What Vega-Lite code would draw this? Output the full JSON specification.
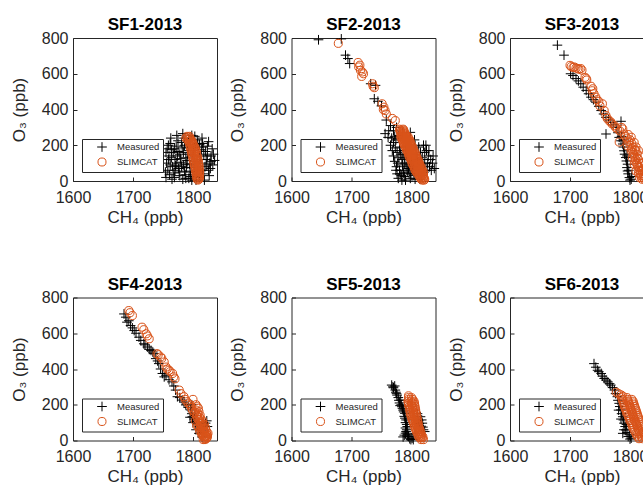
{
"$schema": "https://vega.github.io/schema/vega-lite/v6.json",
"autosize": {"type": "pad"},
"padding": {"left": 9, "top": 15, "right": 0, "bottom": 0},
"background": "white",
"bounds": "flush",
"columns": 3,
"spacing": {"row": 116.5, "column": 74.5},
"resolve": {"scale": {"color": "independent", "shape": "independent"}},
"config": {
  "font": "Liberation Sans",
  "view": {"stroke": "#262626", "strokeWidth": 1},
  "axis": {"grid": false, "domain": false, "tickColor": "#262626", "tickSize": -4, "labelColor": "#262626", "titleColor": "#262626", "labelFontSize": 16, "titleFontSize": 17, "titleFontWeight": "normal", "labelFlush": false, "labelFont": "Liberation Sans", "titleFont": "Liberation Sans", "format": "d"},
  "axisX": {"labelPadding": 12, "titlePadding": 4},
  "axisY": {"labelPadding": 9, "titlePadding": 13},
  "title": {"fontSize": 17, "fontWeight": "bold", "color": "#000000", "offset": -4, "baseline": "alphabetic", "font": "Liberation Sans"},
  "legend": {"orient": "bottom-left", "offset": 9, "strokeColor": "#262626", "fillColor": "white", "padding": 3, "labelFont": "Liberation Sans", "labelFontSize": 9.5, "labelColor": "#262626", "symbolOffset": 12, "labelOffset": 10, "rowPadding": 1, "symbolStrokeWidth": 1, "symbolSize": 65, "titleFontSize": 0}
},
"datasets": {
"SF1": [
{"series":"Measured","ch4":1755,"o3":20},{"series":"Measured","ch4":1758,"o3":60},{"series":"Measured","ch4":1756,"o3":100},{"series":"Measured","ch4":1760,"o3":140},{"series":"Measured","ch4":1757,"o3":180},{"series":"Measured","ch4":1762,"o3":210},{"series":"Measured","ch4":1765,"o3":10},{"series":"Measured","ch4":1768,"o3":45},{"series":"Measured","ch4":1766,"o3":80},{"series":"Measured","ch4":1770,"o3":120},{"series":"Measured","ch4":1767,"o3":160},{"series":"Measured","ch4":1772,"o3":195},{"series":"Measured","ch4":1775,"o3":225},{"series":"Measured","ch4":1778,"o3":30},{"series":"Measured","ch4":1776,"o3":70},{"series":"Measured","ch4":1780,"o3":105},{"series":"Measured","ch4":1778,"o3":150},{"series":"Measured","ch4":1782,"o3":185},{"series":"Measured","ch4":1785,"o3":240},{"series":"Measured","ch4":1788,"o3":15},{"series":"Measured","ch4":1786,"o3":55},{"series":"Measured","ch4":1790,"o3":95},{"series":"Measured","ch4":1788,"o3":130},{"series":"Measured","ch4":1792,"o3":170},{"series":"Measured","ch4":1795,"o3":205},{"series":"Measured","ch4":1798,"o3":255},{"series":"Measured","ch4":1800,"o3":35},{"series":"Measured","ch4":1797,"o3":75},{"series":"Measured","ch4":1802,"o3":110},{"series":"Measured","ch4":1799,"o3":145},{"series":"Measured","ch4":1804,"o3":190},{"series":"Measured","ch4":1807,"o3":230},{"series":"Measured","ch4":1810,"o3":20},{"series":"Measured","ch4":1808,"o3":60},{"series":"Measured","ch4":1812,"o3":100},{"series":"Measured","ch4":1811,"o3":140},{"series":"Measured","ch4":1814,"o3":175},{"series":"Measured","ch4":1816,"o3":210},{"series":"Measured","ch4":1818,"o3":40},{"series":"Measured","ch4":1820,"o3":80},{"series":"Measured","ch4":1822,"o3":120},{"series":"Measured","ch4":1821,"o3":165},{"series":"Measured","ch4":1824,"o3":195},{"series":"Measured","ch4":1826,"o3":60},{"series":"Measured","ch4":1828,"o3":100},{"series":"Measured","ch4":1830,"o3":140},{"series":"Measured","ch4":1833,"o3":90},{"series":"Measured","ch4":1836,"o3":115},{"series":"Measured","ch4":1832,"o3":180},{"series":"Measured","ch4":1763,"o3":240},{"series":"Measured","ch4":1773,"o3":255},{"series":"Measured","ch4":1783,"o3":265},{"series":"Measured","ch4":1793,"o3":235},{"series":"Measured","ch4":1803,"o3":250},{"series":"Measured","ch4":1815,"o3":240},{"series":"Measured","ch4":1819,"o3":5},{"series":"Measured","ch4":1805,"o3":5},{"series":"Measured","ch4":1795,"o3":50},{"series":"Measured","ch4":1784,"o3":90},{"series":"Measured","ch4":1774,"o3":140},{"series":"Measured","ch4":1764,"o3":175},{"series":"Measured","ch4":1761,"o3":35},{"series":"Measured","ch4":1771,"o3":85},{"series":"Measured","ch4":1781,"o3":215},{"series":"Measured","ch4":1791,"o3":190},{"series":"Measured","ch4":1801,"o3":170},{"series":"Measured","ch4":1813,"o3":120},{"series":"Measured","ch4":1827,"o3":30},
{"series":"Measured","ch4":1754,"o3":50},{"series":"Measured","ch4":1759,"o3":120},{"series":"Measured","ch4":1755,"o3":160},{"series":"Measured","ch4":1759,"o3":200},{"series":"Measured","ch4":1762,"o3":90},{"series":"Measured","ch4":1764,"o3":130},{"series":"Measured","ch4":1769,"o3":20},{"series":"Measured","ch4":1770,"o3":60},{"series":"Measured","ch4":1773,"o3":100},{"series":"Measured","ch4":1769,"o3":180},{"series":"Measured","ch4":1775,"o3":165},{"series":"Measured","ch4":1777,"o3":50},{"series":"Measured","ch4":1779,"o3":125},{"series":"Measured","ch4":1781,"o3":80},{"series":"Measured","ch4":1783,"o3":10},{"series":"Measured","ch4":1784,"o3":160},{"series":"Measured","ch4":1786,"o3":200},{"series":"Measured","ch4":1787,"o3":35},{"series":"Measured","ch4":1789,"o3":75},{"series":"Measured","ch4":1790,"o3":115},{"series":"Measured","ch4":1791,"o3":150},{"series":"Measured","ch4":1793,"o3":15},{"series":"Measured","ch4":1794,"o3":95},{"series":"Measured","ch4":1796,"o3":25},{"series":"Measured","ch4":1798,"o3":5},{"series":"Measured","ch4":1802,"o3":55},{"series":"Measured","ch4":1806,"o3":25},{"series":"Measured","ch4":1816,"o3":60},{"series":"Measured","ch4":1818,"o3":150},{"series":"Measured","ch4":1824,"o3":140},{"series":"Measured","ch4":1829,"o3":70},{"series":"Measured","ch4":1834,"o3":150},{"series":"Measured","ch4":1823,"o3":90},{"series":"Measured","ch4":1817,"o3":190},{"series":"Measured","ch4":1811,"o3":205},{"series":"Measured","ch4":1808,"o3":210},{"series":"Measured","ch4":1830,"o3":110},{"series":"Measured","ch4":1826,"o3":220},
{"series":"SLIMCAT","ch4":1790,"o3":250},{"series":"SLIMCAT","ch4":1794,"o3":250},{"series":"SLIMCAT","ch4":1788,"o3":240},{"series":"SLIMCAT","ch4":1795,"o3":240},{"series":"SLIMCAT","ch4":1791,"o3":230},{"series":"SLIMCAT","ch4":1797,"o3":230},{"series":"SLIMCAT","ch4":1793,"o3":220},{"series":"SLIMCAT","ch4":1799,"o3":220},{"series":"SLIMCAT","ch4":1794,"o3":210},{"series":"SLIMCAT","ch4":1800,"o3":210},{"series":"SLIMCAT","ch4":1795,"o3":200},{"series":"SLIMCAT","ch4":1801,"o3":200},{"series":"SLIMCAT","ch4":1796,"o3":190},{"series":"SLIMCAT","ch4":1803,"o3":190},{"series":"SLIMCAT","ch4":1796,"o3":180},{"series":"SLIMCAT","ch4":1804,"o3":180},{"series":"SLIMCAT","ch4":1797,"o3":170},{"series":"SLIMCAT","ch4":1805,"o3":170},{"series":"SLIMCAT","ch4":1798,"o3":160},{"series":"SLIMCAT","ch4":1806,"o3":160},{"series":"SLIMCAT","ch4":1798,"o3":150},{"series":"SLIMCAT","ch4":1806,"o3":150},{"series":"SLIMCAT","ch4":1799,"o3":140},{"series":"SLIMCAT","ch4":1807,"o3":140},{"series":"SLIMCAT","ch4":1800,"o3":130},{"series":"SLIMCAT","ch4":1808,"o3":130},{"series":"SLIMCAT","ch4":1800,"o3":120},{"series":"SLIMCAT","ch4":1808,"o3":120},{"series":"SLIMCAT","ch4":1801,"o3":110},{"series":"SLIMCAT","ch4":1809,"o3":110},{"series":"SLIMCAT","ch4":1802,"o3":100},{"series":"SLIMCAT","ch4":1809,"o3":100},{"series":"SLIMCAT","ch4":1802,"o3":90},{"series":"SLIMCAT","ch4":1810,"o3":90},{"series":"SLIMCAT","ch4":1803,"o3":80},{"series":"SLIMCAT","ch4":1810,"o3":80},{"series":"SLIMCAT","ch4":1804,"o3":70},{"series":"SLIMCAT","ch4":1810,"o3":70},{"series":"SLIMCAT","ch4":1804,"o3":60},{"series":"SLIMCAT","ch4":1811,"o3":60},{"series":"SLIMCAT","ch4":1805,"o3":50},{"series":"SLIMCAT","ch4":1811,"o3":50},{"series":"SLIMCAT","ch4":1805,"o3":40},{"series":"SLIMCAT","ch4":1811,"o3":40},{"series":"SLIMCAT","ch4":1806,"o3":30},{"series":"SLIMCAT","ch4":1811,"o3":30},{"series":"SLIMCAT","ch4":1806,"o3":20},{"series":"SLIMCAT","ch4":1811,"o3":20},{"series":"SLIMCAT","ch4":1807,"o3":10},{"series":"SLIMCAT","ch4":1810,"o3":10},{"series":"SLIMCAT","ch4":1808,"o3":5},
{"series":"SLIMCAT","ch4":1792,"o3":245},{"series":"SLIMCAT","ch4":1794,"o3":235},{"series":"SLIMCAT","ch4":1796,"o3":225},{"series":"SLIMCAT","ch4":1797,"o3":215},{"series":"SLIMCAT","ch4":1798,"o3":205},{"series":"SLIMCAT","ch4":1799,"o3":195},{"series":"SLIMCAT","ch4":1800,"o3":185},{"series":"SLIMCAT","ch4":1801,"o3":175},{"series":"SLIMCAT","ch4":1802,"o3":165},{"series":"SLIMCAT","ch4":1802,"o3":155},{"series":"SLIMCAT","ch4":1803,"o3":145},{"series":"SLIMCAT","ch4":1804,"o3":135},{"series":"SLIMCAT","ch4":1804,"o3":125},{"series":"SLIMCAT","ch4":1805,"o3":115},{"series":"SLIMCAT","ch4":1805,"o3":105},{"series":"SLIMCAT","ch4":1806,"o3":95},{"series":"SLIMCAT","ch4":1806,"o3":85},{"series":"SLIMCAT","ch4":1807,"o3":75},{"series":"SLIMCAT","ch4":1807,"o3":65},{"series":"SLIMCAT","ch4":1808,"o3":55},{"series":"SLIMCAT","ch4":1808,"o3":45},{"series":"SLIMCAT","ch4":1808,"o3":35},{"series":"SLIMCAT","ch4":1809,"o3":25},{"series":"SLIMCAT","ch4":1809,"o3":15}
],
"SF2": [
{"series":"Measured","ch4":1645,"o3":790},{"series":"Measured","ch4":1683,"o3":795},{"series":"Measured","ch4":1690,"o3":704},{"series":"Measured","ch4":1694,"o3":685},{"series":"Measured","ch4":1697,"o3":657},{"series":"Measured","ch4":1732,"o3":544},{"series":"Measured","ch4":1740,"o3":535},{"series":"Measured","ch4":1738,"o3":460},{"series":"Measured","ch4":1744,"o3":446},{"series":"Measured","ch4":1750,"o3":420},{"series":"Measured","ch4":1758,"o3":341},{"series":"Measured","ch4":1762,"o3":281},{"series":"Measured","ch4":1761,"o3":244},{"series":"Measured","ch4":1770,"o3":281},{"series":"Measured","ch4":1798,"o3":272},{"series":"Measured","ch4":1756,"o3":265},{"series":"Measured","ch4":1765,"o3":310},{"series":"Measured","ch4":1772,"o3":250},{"series":"Measured","ch4":1778,"o3":240},{"series":"Measured","ch4":1775,"o3":300},{"series":"Measured","ch4":1785,"o3":270},{"series":"Measured","ch4":1805,"o3":230},
{"series":"Measured","ch4":1765,"o3":200},{"series":"Measured","ch4":1768,"o3":170},{"series":"Measured","ch4":1770,"o3":140},{"series":"Measured","ch4":1772,"o3":110},{"series":"Measured","ch4":1775,"o3":80},{"series":"Measured","ch4":1776,"o3":40},{"series":"Measured","ch4":1778,"o3":15},{"series":"Measured","ch4":1780,"o3":190},{"series":"Measured","ch4":1782,"o3":150},{"series":"Measured","ch4":1784,"o3":120},{"series":"Measured","ch4":1785,"o3":90},{"series":"Measured","ch4":1786,"o3":60},{"series":"Measured","ch4":1788,"o3":25},{"series":"Measured","ch4":1790,"o3":5},{"series":"Measured","ch4":1792,"o3":140},{"series":"Measured","ch4":1794,"o3":100},{"series":"Measured","ch4":1795,"o3":70},{"series":"Measured","ch4":1796,"o3":40},{"series":"Measured","ch4":1798,"o3":15},{"series":"Measured","ch4":1800,"o3":110},{"series":"Measured","ch4":1802,"o3":60},{"series":"Measured","ch4":1804,"o3":30},{"series":"Measured","ch4":1780,"o3":60},{"series":"Measured","ch4":1783,"o3":30},{"series":"Measured","ch4":1788,"o3":100},{"series":"Measured","ch4":1790,"o3":170},{"series":"Measured","ch4":1812,"o3":190},{"series":"Measured","ch4":1815,"o3":160},{"series":"Measured","ch4":1818,"o3":130},{"series":"Measured","ch4":1820,"o3":200},{"series":"Measured","ch4":1822,"o3":100},{"series":"Measured","ch4":1825,"o3":170},{"series":"Measured","ch4":1828,"o3":140},{"series":"Measured","ch4":1830,"o3":80},{"series":"Measured","ch4":1832,"o3":120},{"series":"Measured","ch4":1835,"o3":100},{"series":"Measured","ch4":1838,"o3":70},{"series":"Measured","ch4":1836,"o3":140},{"series":"Measured","ch4":1826,"o3":60},{"series":"Measured","ch4":1819,"o3":90},{"series":"Measured","ch4":1810,"o3":120},{"series":"Measured","ch4":1812,"o3":40},{"series":"Measured","ch4":1814,"o3":10},{"series":"Measured","ch4":1808,"o3":150},{"series":"Measured","ch4":1806,"o3":200},{"series":"Measured","ch4":1774,"o3":230},{"series":"Measured","ch4":1779,"o3":255},
{"series":"Measured","ch4":1774,"o3":60},{"series":"Measured","ch4":1777,"o3":100},{"series":"Measured","ch4":1779,"o3":130},{"series":"Measured","ch4":1781,"o3":170},{"series":"Measured","ch4":1786,"o3":150},{"series":"Measured","ch4":1789,"o3":130},{"series":"Measured","ch4":1791,"o3":80},{"series":"Measured","ch4":1793,"o3":50},{"series":"Measured","ch4":1787,"o3":45},{"series":"Measured","ch4":1781,"o3":40},{"series":"Measured","ch4":1784,"o3":5},{"series":"Measured","ch4":1797,"o3":90},{"series":"Measured","ch4":1799,"o3":40},{"series":"Measured","ch4":1803,"o3":80},{"series":"Measured","ch4":1806,"o3":10},{"series":"Measured","ch4":1776,"o3":160},{"series":"Measured","ch4":1773,"o3":185},{"series":"Measured","ch4":1770,"o3":215},{"series":"Measured","ch4":1767,"o3":240},{"series":"Measured","ch4":1816,"o3":120},{"series":"Measured","ch4":1822,"o3":160},{"series":"Measured","ch4":1827,"o3":100},{"series":"Measured","ch4":1833,"o3":60},{"series":"Measured","ch4":1829,"o3":170},{"series":"Measured","ch4":1824,"o3":200},{"series":"Measured","ch4":1817,"o3":30},{"series":"Measured","ch4":1821,"o3":50},
{"series":"SLIMCAT","ch4":1678,"o3":770},{"series":"SLIMCAT","ch4":1711,"o3":663},{"series":"SLIMCAT","ch4":1714,"o3":648},{"series":"SLIMCAT","ch4":1712,"o3":638},{"series":"SLIMCAT","ch4":1715,"o3":619},{"series":"SLIMCAT","ch4":1718,"o3":610},{"series":"SLIMCAT","ch4":1717,"o3":585},{"series":"SLIMCAT","ch4":1720,"o3":600},{"series":"SLIMCAT","ch4":1735,"o3":544},{"series":"SLIMCAT","ch4":1736,"o3":530},{"series":"SLIMCAT","ch4":1738,"o3":522},{"series":"SLIMCAT","ch4":1751,"o3":432},{"series":"SLIMCAT","ch4":1754,"o3":413},{"series":"SLIMCAT","ch4":1753,"o3":400},{"series":"SLIMCAT","ch4":1756,"o3":394},{"series":"SLIMCAT","ch4":1758,"o3":375},{"series":"SLIMCAT","ch4":1768,"o3":350},{"series":"SLIMCAT","ch4":1773,"o3":338},
{"series":"SLIMCAT","ch4":1780,"o3":290},{"series":"SLIMCAT","ch4":1786,"o3":290},{"series":"SLIMCAT","ch4":1781,"o3":280},{"series":"SLIMCAT","ch4":1787,"o3":280},{"series":"SLIMCAT","ch4":1782,"o3":270},{"series":"SLIMCAT","ch4":1788,"o3":270},{"series":"SLIMCAT","ch4":1784,"o3":260},{"series":"SLIMCAT","ch4":1790,"o3":260},{"series":"SLIMCAT","ch4":1782,"o3":250},{"series":"SLIMCAT","ch4":1788,"o3":250},{"series":"SLIMCAT","ch4":1794,"o3":250},{"series":"SLIMCAT","ch4":1783,"o3":240},{"series":"SLIMCAT","ch4":1789,"o3":240},{"series":"SLIMCAT","ch4":1795,"o3":240},{"series":"SLIMCAT","ch4":1785,"o3":230},{"series":"SLIMCAT","ch4":1791,"o3":230},{"series":"SLIMCAT","ch4":1797,"o3":230},{"series":"SLIMCAT","ch4":1786,"o3":220},{"series":"SLIMCAT","ch4":1792,"o3":220},{"series":"SLIMCAT","ch4":1798,"o3":220},{"series":"SLIMCAT","ch4":1787,"o3":210},{"series":"SLIMCAT","ch4":1793,"o3":210},{"series":"SLIMCAT","ch4":1799,"o3":210},{"series":"SLIMCAT","ch4":1788,"o3":200},{"series":"SLIMCAT","ch4":1794,"o3":200},{"series":"SLIMCAT","ch4":1800,"o3":200},{"series":"SLIMCAT","ch4":1790,"o3":190},{"series":"SLIMCAT","ch4":1796,"o3":190},{"series":"SLIMCAT","ch4":1802,"o3":190},{"series":"SLIMCAT","ch4":1791,"o3":180},{"series":"SLIMCAT","ch4":1797,"o3":180},{"series":"SLIMCAT","ch4":1803,"o3":180},{"series":"SLIMCAT","ch4":1792,"o3":170},{"series":"SLIMCAT","ch4":1798,"o3":170},{"series":"SLIMCAT","ch4":1804,"o3":170},{"series":"SLIMCAT","ch4":1794,"o3":160},{"series":"SLIMCAT","ch4":1800,"o3":160},{"series":"SLIMCAT","ch4":1806,"o3":160},{"series":"SLIMCAT","ch4":1795,"o3":150},{"series":"SLIMCAT","ch4":1801,"o3":150},{"series":"SLIMCAT","ch4":1807,"o3":150},{"series":"SLIMCAT","ch4":1796,"o3":140},{"series":"SLIMCAT","ch4":1802,"o3":140},{"series":"SLIMCAT","ch4":1808,"o3":140},{"series":"SLIMCAT","ch4":1797,"o3":130},{"series":"SLIMCAT","ch4":1803,"o3":130},{"series":"SLIMCAT","ch4":1809,"o3":130},{"series":"SLIMCAT","ch4":1799,"o3":120},{"series":"SLIMCAT","ch4":1805,"o3":120},{"series":"SLIMCAT","ch4":1811,"o3":120},{"series":"SLIMCAT","ch4":1800,"o3":110},{"series":"SLIMCAT","ch4":1806,"o3":110},{"series":"SLIMCAT","ch4":1812,"o3":110},{"series":"SLIMCAT","ch4":1801,"o3":100},{"series":"SLIMCAT","ch4":1807,"o3":100},{"series":"SLIMCAT","ch4":1813,"o3":100},{"series":"SLIMCAT","ch4":1802,"o3":90},{"series":"SLIMCAT","ch4":1808,"o3":90},{"series":"SLIMCAT","ch4":1814,"o3":90},{"series":"SLIMCAT","ch4":1804,"o3":80},{"series":"SLIMCAT","ch4":1810,"o3":80},{"series":"SLIMCAT","ch4":1816,"o3":80},{"series":"SLIMCAT","ch4":1805,"o3":70},{"series":"SLIMCAT","ch4":1811,"o3":70},{"series":"SLIMCAT","ch4":1817,"o3":70},{"series":"SLIMCAT","ch4":1806,"o3":60},{"series":"SLIMCAT","ch4":1812,"o3":60},{"series":"SLIMCAT","ch4":1818,"o3":60},{"series":"SLIMCAT","ch4":1808,"o3":50},{"series":"SLIMCAT","ch4":1814,"o3":50},{"series":"SLIMCAT","ch4":1820,"o3":50},{"series":"SLIMCAT","ch4":1810,"o3":40},{"series":"SLIMCAT","ch4":1815,"o3":40},{"series":"SLIMCAT","ch4":1820,"o3":40},{"series":"SLIMCAT","ch4":1813,"o3":30},{"series":"SLIMCAT","ch4":1819,"o3":30},{"series":"SLIMCAT","ch4":1814,"o3":20},{"series":"SLIMCAT","ch4":1820,"o3":20},{"series":"SLIMCAT","ch4":1816,"o3":10},{"series":"SLIMCAT","ch4":1822,"o3":10},
{"series":"SLIMCAT","ch4":1781,"o3":285},{"series":"SLIMCAT","ch4":1787,"o3":285},{"series":"SLIMCAT","ch4":1782,"o3":275},{"series":"SLIMCAT","ch4":1788,"o3":275},{"series":"SLIMCAT","ch4":1783,"o3":265},{"series":"SLIMCAT","ch4":1789,"o3":265},{"series":"SLIMCAT","ch4":1784,"o3":255},{"series":"SLIMCAT","ch4":1790,"o3":255},{"series":"SLIMCAT","ch4":1786,"o3":245},{"series":"SLIMCAT","ch4":1792,"o3":245},{"series":"SLIMCAT","ch4":1787,"o3":235},{"series":"SLIMCAT","ch4":1793,"o3":235},{"series":"SLIMCAT","ch4":1788,"o3":225},{"series":"SLIMCAT","ch4":1794,"o3":225},{"series":"SLIMCAT","ch4":1790,"o3":215},{"series":"SLIMCAT","ch4":1796,"o3":215},{"series":"SLIMCAT","ch4":1791,"o3":205},{"series":"SLIMCAT","ch4":1797,"o3":205},{"series":"SLIMCAT","ch4":1792,"o3":195},{"series":"SLIMCAT","ch4":1798,"o3":195},{"series":"SLIMCAT","ch4":1793,"o3":185},{"series":"SLIMCAT","ch4":1799,"o3":185},{"series":"SLIMCAT","ch4":1795,"o3":175},{"series":"SLIMCAT","ch4":1801,"o3":175},{"series":"SLIMCAT","ch4":1796,"o3":165},{"series":"SLIMCAT","ch4":1802,"o3":165},{"series":"SLIMCAT","ch4":1797,"o3":155},{"series":"SLIMCAT","ch4":1803,"o3":155},{"series":"SLIMCAT","ch4":1798,"o3":145},{"series":"SLIMCAT","ch4":1804,"o3":145},{"series":"SLIMCAT","ch4":1800,"o3":135},{"series":"SLIMCAT","ch4":1806,"o3":135},{"series":"SLIMCAT","ch4":1801,"o3":125},{"series":"SLIMCAT","ch4":1807,"o3":125},{"series":"SLIMCAT","ch4":1802,"o3":115},{"series":"SLIMCAT","ch4":1808,"o3":115},{"series":"SLIMCAT","ch4":1804,"o3":105},{"series":"SLIMCAT","ch4":1810,"o3":105},{"series":"SLIMCAT","ch4":1805,"o3":95},{"series":"SLIMCAT","ch4":1811,"o3":95},{"series":"SLIMCAT","ch4":1806,"o3":85},{"series":"SLIMCAT","ch4":1812,"o3":85},{"series":"SLIMCAT","ch4":1807,"o3":75},{"series":"SLIMCAT","ch4":1813,"o3":75},{"series":"SLIMCAT","ch4":1809,"o3":65},{"series":"SLIMCAT","ch4":1815,"o3":65},{"series":"SLIMCAT","ch4":1810,"o3":55},{"series":"SLIMCAT","ch4":1816,"o3":55},{"series":"SLIMCAT","ch4":1811,"o3":45},{"series":"SLIMCAT","ch4":1817,"o3":45},{"series":"SLIMCAT","ch4":1813,"o3":35},{"series":"SLIMCAT","ch4":1818,"o3":35},{"series":"SLIMCAT","ch4":1814,"o3":25},{"series":"SLIMCAT","ch4":1820,"o3":25},{"series":"SLIMCAT","ch4":1816,"o3":15},{"series":"SLIMCAT","ch4":1821,"o3":15},{"series":"SLIMCAT","ch4":1818,"o3":5},{"series":"SLIMCAT","ch4":1821,"o3":5}
],
"SF3": [
{"series":"Measured","ch4":1679,"o3":760},{"series":"Measured","ch4":1690,"o3":704},{"series":"Measured","ch4":1701,"o3":600},{"series":"Measured","ch4":1705,"o3":590},{"series":"Measured","ch4":1710,"o3":573},{"series":"Measured","ch4":1714,"o3":560},{"series":"Measured","ch4":1718,"o3":544},{"series":"Measured","ch4":1722,"o3":525},{"series":"Measured","ch4":1727,"o3":507},{"series":"Measured","ch4":1731,"o3":488},{"series":"Measured","ch4":1735,"o3":469},{"series":"Measured","ch4":1739,"o3":455},{"series":"Measured","ch4":1743,"o3":441},{"series":"Measured","ch4":1748,"o3":418},{"series":"Measured","ch4":1752,"o3":394},{"series":"Measured","ch4":1756,"o3":375},{"series":"Measured","ch4":1760,"o3":356},{"series":"Measured","ch4":1764,"o3":342},{"series":"Measured","ch4":1768,"o3":328},{"series":"Measured","ch4":1772,"o3":314},{"series":"Measured","ch4":1777,"o3":300},{"series":"Measured","ch4":1785,"o3":334},{"series":"Measured","ch4":1760,"o3":263},{"series":"Measured","ch4":1780,"o3":270},{"series":"Measured","ch4":1782,"o3":244},{"series":"Measured","ch4":1785,"o3":225},{"series":"Measured","ch4":1788,"o3":207},{"series":"Measured","ch4":1789,"o3":190},{"series":"Measured","ch4":1790,"o3":169},{"series":"Measured","ch4":1791,"o3":150},{"series":"Measured","ch4":1793,"o3":131},{"series":"Measured","ch4":1794,"o3":112},{"series":"Measured","ch4":1796,"o3":94},{"series":"Measured","ch4":1795,"o3":75},{"series":"Measured","ch4":1796,"o3":56},{"series":"Measured","ch4":1797,"o3":40},{"series":"Measured","ch4":1799,"o3":19},{"series":"Measured","ch4":1800,"o3":5},{"series":"Measured","ch4":1802,"o3":10},{"series":"Measured","ch4":1803,"o3":25},{"series":"Measured","ch4":1798,"o3":60},{"series":"Measured","ch4":1795,"o3":140},{"series":"Measured","ch4":1790,"o3":230},{"series":"Measured","ch4":1786,"o3":250},
{"series":"SLIMCAT","ch4":1700,"o3":647},{"series":"SLIMCAT","ch4":1702,"o3":640},{"series":"SLIMCAT","ch4":1705,"o3":635},{"series":"SLIMCAT","ch4":1707,"o3":638},{"series":"SLIMCAT","ch4":1710,"o3":632},{"series":"SLIMCAT","ch4":1713,"o3":629},{"series":"SLIMCAT","ch4":1715,"o3":625},{"series":"SLIMCAT","ch4":1718,"o3":629},{"series":"SLIMCAT","ch4":1720,"o3":620},{"series":"SLIMCAT","ch4":1725,"o3":580},{"series":"SLIMCAT","ch4":1727,"o3":573},{"series":"SLIMCAT","ch4":1728,"o3":565},{"series":"SLIMCAT","ch4":1735,"o3":530},{"series":"SLIMCAT","ch4":1738,"o3":516},{"series":"SLIMCAT","ch4":1737,"o3":505},{"series":"SLIMCAT","ch4":1740,"o3":488},{"series":"SLIMCAT","ch4":1743,"o3":469},{"series":"SLIMCAT","ch4":1745,"o3":455},{"series":"SLIMCAT","ch4":1748,"o3":445},{"series":"SLIMCAT","ch4":1750,"o3":420},{"series":"SLIMCAT","ch4":1754,"o3":432},{"series":"SLIMCAT","ch4":1757,"o3":394},{"series":"SLIMCAT","ch4":1760,"o3":366},{"series":"SLIMCAT","ch4":1762,"o3":350},{"series":"SLIMCAT","ch4":1765,"o3":338},{"series":"SLIMCAT","ch4":1768,"o3":330},{"series":"SLIMCAT","ch4":1770,"o3":320},{"series":"SLIMCAT","ch4":1774,"o3":310},{"series":"SLIMCAT","ch4":1776,"o3":300},{"series":"SLIMCAT","ch4":1779,"o3":291},{"series":"SLIMCAT","ch4":1783,"o3":280},{"series":"SLIMCAT","ch4":1786,"o3":300},{"series":"SLIMCAT","ch4":1788,"o3":291},{"series":"SLIMCAT","ch4":1790,"o3":263},{"series":"SLIMCAT","ch4":1782,"o3":218},{"series":"SLIMCAT","ch4":1792,"o3":250},{"series":"SLIMCAT","ch4":1795,"o3":240},{"series":"SLIMCAT","ch4":1796,"o3":197},{"series":"SLIMCAT","ch4":1798,"o3":220},{"series":"SLIMCAT","ch4":1800,"o3":200},{"series":"SLIMCAT","ch4":1802,"o3":169},{"series":"SLIMCAT","ch4":1803,"o3":180},{"series":"SLIMCAT","ch4":1805,"o3":160},{"series":"SLIMCAT","ch4":1804,"o3":131},{"series":"SLIMCAT","ch4":1807,"o3":140},{"series":"SLIMCAT","ch4":1807,"o3":94},{"series":"SLIMCAT","ch4":1809,"o3":120},{"series":"SLIMCAT","ch4":1811,"o3":100},{"series":"SLIMCAT","ch4":1810,"o3":56},{"series":"SLIMCAT","ch4":1813,"o3":80},{"series":"SLIMCAT","ch4":1815,"o3":60},{"series":"SLIMCAT","ch4":1816,"o3":19},{"series":"SLIMCAT","ch4":1817,"o3":40},{"series":"SLIMCAT","ch4":1819,"o3":20},{"series":"SLIMCAT","ch4":1805,"o3":190},{"series":"SLIMCAT","ch4":1810,"o3":170},{"series":"SLIMCAT","ch4":1812,"o3":150},{"series":"SLIMCAT","ch4":1814,"o3":120},{"series":"SLIMCAT","ch4":1816,"o3":100},{"series":"SLIMCAT","ch4":1818,"o3":80},{"series":"SLIMCAT","ch4":1820,"o3":60},{"series":"SLIMCAT","ch4":1821,"o3":40},{"series":"SLIMCAT","ch4":1822,"o3":20},{"series":"SLIMCAT","ch4":1800,"o3":230},{"series":"SLIMCAT","ch4":1797,"o3":260},{"series":"SLIMCAT","ch4":1824,"o3":10},{"series":"SLIMCAT","ch4":1824,"o3":50},{"series":"SLIMCAT","ch4":1825,"o3":90},
{"series":"SLIMCAT","ch4":1808,"o3":110},{"series":"SLIMCAT","ch4":1806,"o3":150},{"series":"SLIMCAT","ch4":1808,"o3":175},{"series":"SLIMCAT","ch4":1803,"o3":210},{"series":"SLIMCAT","ch4":1812,"o3":130},{"series":"SLIMCAT","ch4":1812,"o3":90},{"series":"SLIMCAT","ch4":1815,"o3":75},{"series":"SLIMCAT","ch4":1814,"o3":45},{"series":"SLIMCAT","ch4":1818,"o3":55},{"series":"SLIMCAT","ch4":1818,"o3":30},{"series":"SLIMCAT","ch4":1820,"o3":10},{"series":"SLIMCAT","ch4":1823,"o3":30},{"series":"SLIMCAT","ch4":1823,"o3":70},{"series":"SLIMCAT","ch4":1819,"o3":100},{"series":"SLIMCAT","ch4":1816,"o3":140},{"series":"SLIMCAT","ch4":1814,"o3":170},{"series":"SLIMCAT","ch4":1810,"o3":190},{"series":"SLIMCAT","ch4":1807,"o3":215},{"series":"SLIMCAT","ch4":1802,"o3":245},{"series":"SLIMCAT","ch4":1826,"o3":25}
],
"SF4": [
{"series":"Measured","ch4":1685,"o3":708},{"series":"Measured","ch4":1688,"o3":690},{"series":"Measured","ch4":1690,"o3":662},{"series":"Measured","ch4":1693,"o3":670},{"series":"Measured","ch4":1696,"o3":643},{"series":"Measured","ch4":1699,"o3":630},{"series":"Measured","ch4":1702,"o3":615},{"series":"Measured","ch4":1705,"o3":600},{"series":"Measured","ch4":1710,"o3":578},{"series":"Measured","ch4":1713,"o3":560},{"series":"Measured","ch4":1718,"o3":541},{"series":"Measured","ch4":1720,"o3":535},{"series":"Measured","ch4":1724,"o3":523},{"series":"Measured","ch4":1727,"o3":510},{"series":"Measured","ch4":1730,"o3":504},{"series":"Measured","ch4":1733,"o3":495},{"series":"Measured","ch4":1735,"o3":486},{"series":"Measured","ch4":1738,"o3":458},{"series":"Measured","ch4":1741,"o3":445},{"series":"Measured","ch4":1743,"o3":430},{"series":"Measured","ch4":1746,"o3":400},{"series":"Measured","ch4":1749,"o3":375},{"series":"Measured","ch4":1752,"o3":356},{"series":"Measured","ch4":1755,"o3":365},{"series":"Measured","ch4":1760,"o3":340},{"series":"Measured","ch4":1765,"o3":328},{"series":"Measured","ch4":1768,"o3":305},{"series":"Measured","ch4":1771,"o3":282},{"series":"Measured","ch4":1774,"o3":245},{"series":"Measured","ch4":1778,"o3":240},{"series":"Measured","ch4":1782,"o3":226},{"series":"Measured","ch4":1785,"o3":215},{"series":"Measured","ch4":1788,"o3":199},{"series":"Measured","ch4":1792,"o3":185},{"series":"Measured","ch4":1796,"o3":171},{"series":"Measured","ch4":1798,"o3":150},{"series":"Measured","ch4":1799,"o3":133},{"series":"Measured","ch4":1802,"o3":120},{"series":"Measured","ch4":1804,"o3":106},{"series":"Measured","ch4":1807,"o3":92},{"series":"Measured","ch4":1810,"o3":78},{"series":"Measured","ch4":1812,"o3":70},{"series":"Measured","ch4":1815,"o3":60},{"series":"Measured","ch4":1818,"o3":45},{"series":"Measured","ch4":1821,"o3":97},{"series":"Measured","ch4":1824,"o3":78},{"series":"Measured","ch4":1820,"o3":80},{"series":"Measured","ch4":1823,"o3":110},{"series":"Measured","ch4":1817,"o3":100},{"series":"Measured","ch4":1810,"o3":40},{"series":"Measured","ch4":1815,"o3":20},{"series":"Measured","ch4":1805,"o3":60},{"series":"Measured","ch4":1800,"o3":100},{"series":"Measured","ch4":1803,"o3":140},{"series":"Measured","ch4":1798,"o3":200},{"series":"Measured","ch4":1795,"o3":130},
{"series":"SLIMCAT","ch4":1693,"o3":727},{"series":"SLIMCAT","ch4":1695,"o3":715},{"series":"SLIMCAT","ch4":1699,"o3":699},{"series":"SLIMCAT","ch4":1715,"o3":634},{"series":"SLIMCAT","ch4":1718,"o3":620},{"series":"SLIMCAT","ch4":1722,"o3":597},{"series":"SLIMCAT","ch4":1724,"o3":585},{"series":"SLIMCAT","ch4":1727,"o3":569},{"series":"SLIMCAT","ch4":1740,"o3":486},{"series":"SLIMCAT","ch4":1742,"o3":480},{"series":"SLIMCAT","ch4":1746,"o3":467},{"series":"SLIMCAT","ch4":1748,"o3":460},{"series":"SLIMCAT","ch4":1752,"o3":439},{"series":"SLIMCAT","ch4":1755,"o3":411},{"series":"SLIMCAT","ch4":1757,"o3":400},{"series":"SLIMCAT","ch4":1760,"o3":393},{"series":"SLIMCAT","ch4":1762,"o3":385},{"series":"SLIMCAT","ch4":1766,"o3":375},{"series":"SLIMCAT","ch4":1768,"o3":356},{"series":"SLIMCAT","ch4":1770,"o3":345},{"series":"SLIMCAT","ch4":1777,"o3":282},{"series":"SLIMCAT","ch4":1780,"o3":262},{"series":"SLIMCAT","ch4":1785,"o3":245},{"series":"SLIMCAT","ch4":1787,"o3":230},{"series":"SLIMCAT","ch4":1790,"o3":217},{"series":"SLIMCAT","ch4":1793,"o3":205},{"series":"SLIMCAT","ch4":1796,"o3":198},{"series":"SLIMCAT","ch4":1797,"o3":185},{"series":"SLIMCAT","ch4":1799,"o3":171},{"series":"SLIMCAT","ch4":1800,"o3":230},{"series":"SLIMCAT","ch4":1802,"o3":152},{"series":"SLIMCAT","ch4":1803,"o3":160},{"series":"SLIMCAT","ch4":1805,"o3":200},{"series":"SLIMCAT","ch4":1806,"o3":140},{"series":"SLIMCAT","ch4":1807,"o3":133},{"series":"SLIMCAT","ch4":1807,"o3":189},{"series":"SLIMCAT","ch4":1808,"o3":120},{"series":"SLIMCAT","ch4":1809,"o3":180},{"series":"SLIMCAT","ch4":1810,"o3":161},{"series":"SLIMCAT","ch4":1810,"o3":97},{"series":"SLIMCAT","ch4":1810,"o3":115},{"series":"SLIMCAT","ch4":1812,"o3":100},{"series":"SLIMCAT","ch4":1813,"o3":60},{"series":"SLIMCAT","ch4":1813,"o3":70},{"series":"SLIMCAT","ch4":1815,"o3":80},{"series":"SLIMCAT","ch4":1815,"o3":32},{"series":"SLIMCAT","ch4":1816,"o3":110},{"series":"SLIMCAT","ch4":1816,"o3":45},{"series":"SLIMCAT","ch4":1818,"o3":60},{"series":"SLIMCAT","ch4":1818,"o3":20},{"series":"SLIMCAT","ch4":1819,"o3":90},{"series":"SLIMCAT","ch4":1820,"o3":40},{"series":"SLIMCAT","ch4":1821,"o3":22},{"series":"SLIMCAT","ch4":1821,"o3":70},{"series":"SLIMCAT","ch4":1822,"o3":25},{"series":"SLIMCAT","ch4":1823,"o3":50},{"series":"SLIMCAT","ch4":1824,"o3":30},{"series":"SLIMCAT","ch4":1822,"o3":10},{"series":"SLIMCAT","ch4":1817,"o3":5},
{"series":"SLIMCAT","ch4":1806,"o3":85},{"series":"SLIMCAT","ch4":1809,"o3":75},{"series":"SLIMCAT","ch4":1811,"o3":55},{"series":"SLIMCAT","ch4":1812,"o3":85},{"series":"SLIMCAT","ch4":1814,"o3":95},{"series":"SLIMCAT","ch4":1814,"o3":40},{"series":"SLIMCAT","ch4":1816,"o3":65},{"series":"SLIMCAT","ch4":1817,"o3":30},{"series":"SLIMCAT","ch4":1819,"o3":50},{"series":"SLIMCAT","ch4":1819,"o3":10},{"series":"SLIMCAT","ch4":1820,"o3":25},{"series":"SLIMCAT","ch4":1823,"o3":15},{"series":"SLIMCAT","ch4":1811,"o3":130},{"series":"SLIMCAT","ch4":1813,"o3":120},{"series":"SLIMCAT","ch4":1805,"o3":170},{"series":"SLIMCAT","ch4":1808,"o3":150},{"series":"SLIMCAT","ch4":1804,"o3":110},{"series":"SLIMCAT","ch4":1812,"o3":140},{"series":"SLIMCAT","ch4":1817,"o3":85},{"series":"SLIMCAT","ch4":1822,"o3":40},{"series":"SLIMCAT","ch4":1820,"o3":5},{"series":"SLIMCAT","ch4":1824,"o3":20},{"series":"SLIMCAT","ch4":1825,"o3":40},{"series":"SLIMCAT","ch4":1818,"o3":70}
],
"SF5": [
{"series":"Measured","ch4":1767,"o3":310},{"series":"Measured","ch4":1770,"o3":295},{"series":"Measured","ch4":1772,"o3":305},{"series":"Measured","ch4":1773,"o3":282},{"series":"Measured","ch4":1774,"o3":270},{"series":"Measured","ch4":1776,"o3":254},{"series":"Measured","ch4":1778,"o3":240},{"series":"Measured","ch4":1780,"o3":210},{"series":"Measured","ch4":1782,"o3":226},{"series":"Measured","ch4":1783,"o3":200},{"series":"Measured","ch4":1784,"o3":189},{"series":"Measured","ch4":1786,"o3":170},{"series":"Measured","ch4":1788,"o3":135},{"series":"Measured","ch4":1789,"o3":152},{"series":"Measured","ch4":1790,"o3":100},{"series":"Measured","ch4":1791,"o3":115},{"series":"Measured","ch4":1792,"o3":60},{"series":"Measured","ch4":1793,"o3":78},{"series":"Measured","ch4":1788,"o3":30},{"series":"Measured","ch4":1790,"o3":41},{"series":"Measured","ch4":1786,"o3":20},{"series":"Measured","ch4":1794,"o3":35},{"series":"Measured","ch4":1795,"o3":22},{"series":"Measured","ch4":1797,"o3":10},{"series":"Measured","ch4":1801,"o3":13},{"series":"Measured","ch4":1803,"o3":5},{"series":"Measured","ch4":1812,"o3":110},{"series":"Measured","ch4":1815,"o3":133},{"series":"Measured","ch4":1816,"o3":80},{"series":"Measured","ch4":1818,"o3":97},{"series":"Measured","ch4":1820,"o3":60},{"series":"Measured","ch4":1810,"o3":150},{"series":"Measured","ch4":1806,"o3":40},
{"series":"Measured","ch4":1769,"o3":300},{"series":"Measured","ch4":1775,"o3":262},{"series":"Measured","ch4":1779,"o3":225},{"series":"Measured","ch4":1781,"o3":195},{"series":"Measured","ch4":1785,"o3":180},{"series":"Measured","ch4":1787,"o3":160},{"series":"Measured","ch4":1789,"o3":125},{"series":"Measured","ch4":1792,"o3":90},{"series":"Measured","ch4":1790,"o3":70},{"series":"Measured","ch4":1791,"o3":50},{"series":"Measured","ch4":1793,"o3":25},{"series":"Measured","ch4":1799,"o3":5},{"series":"Measured","ch4":1817,"o3":115},{"series":"Measured","ch4":1813,"o3":95},{"series":"Measured","ch4":1819,"o3":75},{"series":"Measured","ch4":1822,"o3":50},
{"series":"SLIMCAT","ch4":1795,"o3":250},{"series":"SLIMCAT","ch4":1795,"o3":230},{"series":"SLIMCAT","ch4":1802,"o3":230},{"series":"SLIMCAT","ch4":1795,"o3":210},{"series":"SLIMCAT","ch4":1801,"o3":210},{"series":"SLIMCAT","ch4":1805,"o3":210},{"series":"SLIMCAT","ch4":1796,"o3":190},{"series":"SLIMCAT","ch4":1802,"o3":190},{"series":"SLIMCAT","ch4":1806,"o3":190},{"series":"SLIMCAT","ch4":1797,"o3":170},{"series":"SLIMCAT","ch4":1803,"o3":170},{"series":"SLIMCAT","ch4":1807,"o3":170},{"series":"SLIMCAT","ch4":1798,"o3":150},{"series":"SLIMCAT","ch4":1804,"o3":150},{"series":"SLIMCAT","ch4":1808,"o3":150},{"series":"SLIMCAT","ch4":1800,"o3":130},{"series":"SLIMCAT","ch4":1805,"o3":130},{"series":"SLIMCAT","ch4":1809,"o3":130},{"series":"SLIMCAT","ch4":1802,"o3":110},{"series":"SLIMCAT","ch4":1807,"o3":110},{"series":"SLIMCAT","ch4":1810,"o3":110},{"series":"SLIMCAT","ch4":1804,"o3":90},{"series":"SLIMCAT","ch4":1808,"o3":90},{"series":"SLIMCAT","ch4":1811,"o3":90},{"series":"SLIMCAT","ch4":1806,"o3":70},{"series":"SLIMCAT","ch4":1810,"o3":70},{"series":"SLIMCAT","ch4":1813,"o3":70},{"series":"SLIMCAT","ch4":1808,"o3":50},{"series":"SLIMCAT","ch4":1812,"o3":50},{"series":"SLIMCAT","ch4":1815,"o3":50},{"series":"SLIMCAT","ch4":1811,"o3":30},{"series":"SLIMCAT","ch4":1815,"o3":30},{"series":"SLIMCAT","ch4":1817,"o3":30},{"series":"SLIMCAT","ch4":1814,"o3":15},{"series":"SLIMCAT","ch4":1818,"o3":15},
{"series":"SLIMCAT","ch4":1795,"o3":240},{"series":"SLIMCAT","ch4":1800,"o3":240},{"series":"SLIMCAT","ch4":1794,"o3":220},{"series":"SLIMCAT","ch4":1799,"o3":220},{"series":"SLIMCAT","ch4":1804,"o3":220},{"series":"SLIMCAT","ch4":1795,"o3":200},{"series":"SLIMCAT","ch4":1800,"o3":200},{"series":"SLIMCAT","ch4":1805,"o3":200},{"series":"SLIMCAT","ch4":1797,"o3":180},{"series":"SLIMCAT","ch4":1802,"o3":180},{"series":"SLIMCAT","ch4":1806,"o3":180},{"series":"SLIMCAT","ch4":1798,"o3":160},{"series":"SLIMCAT","ch4":1803,"o3":160},{"series":"SLIMCAT","ch4":1807,"o3":160},{"series":"SLIMCAT","ch4":1799,"o3":140},{"series":"SLIMCAT","ch4":1804,"o3":140},{"series":"SLIMCAT","ch4":1808,"o3":140},{"series":"SLIMCAT","ch4":1801,"o3":120},{"series":"SLIMCAT","ch4":1806,"o3":120},{"series":"SLIMCAT","ch4":1810,"o3":120},{"series":"SLIMCAT","ch4":1803,"o3":100},{"series":"SLIMCAT","ch4":1807,"o3":100},{"series":"SLIMCAT","ch4":1811,"o3":100},{"series":"SLIMCAT","ch4":1805,"o3":80},{"series":"SLIMCAT","ch4":1809,"o3":80},{"series":"SLIMCAT","ch4":1812,"o3":80},{"series":"SLIMCAT","ch4":1807,"o3":60},{"series":"SLIMCAT","ch4":1811,"o3":60},{"series":"SLIMCAT","ch4":1814,"o3":60},{"series":"SLIMCAT","ch4":1810,"o3":40},{"series":"SLIMCAT","ch4":1813,"o3":40},{"series":"SLIMCAT","ch4":1816,"o3":40},{"series":"SLIMCAT","ch4":1812,"o3":20},{"series":"SLIMCAT","ch4":1816,"o3":20},{"series":"SLIMCAT","ch4":1819,"o3":20},{"series":"SLIMCAT","ch4":1816,"o3":5},{"series":"SLIMCAT","ch4":1820,"o3":5}
],
"SF6": [
{"series":"Measured","ch4":1740,"o3":430},{"series":"Measured","ch4":1743,"o3":410},{"series":"Measured","ch4":1746,"o3":393},{"series":"Measured","ch4":1748,"o3":385},{"series":"Measured","ch4":1752,"o3":375},{"series":"Measured","ch4":1754,"o3":360},{"series":"Measured","ch4":1757,"o3":347},{"series":"Measured","ch4":1760,"o3":338},{"series":"Measured","ch4":1763,"o3":328},{"series":"Measured","ch4":1766,"o3":318},{"series":"Measured","ch4":1768,"o3":310},{"series":"Measured","ch4":1771,"o3":296},{"series":"Measured","ch4":1774,"o3":282},{"series":"Measured","ch4":1776,"o3":262},{"series":"Measured","ch4":1779,"o3":245},{"series":"Measured","ch4":1780,"o3":225},{"series":"Measured","ch4":1782,"o3":208},{"series":"Measured","ch4":1783,"o3":190},{"series":"Measured","ch4":1785,"o3":171},{"series":"Measured","ch4":1786,"o3":150},{"series":"Measured","ch4":1788,"o3":133},{"series":"Measured","ch4":1789,"o3":115},{"series":"Measured","ch4":1790,"o3":97},{"series":"Measured","ch4":1792,"o3":78},{"series":"Measured","ch4":1793,"o3":59},{"series":"Measured","ch4":1795,"o3":45},{"series":"Measured","ch4":1797,"o3":22},{"series":"Measured","ch4":1799,"o3":32},{"series":"Measured","ch4":1800,"o3":8},{"series":"Measured","ch4":1802,"o3":13},{"series":"Measured","ch4":1790,"o3":60},{"series":"Measured","ch4":1785,"o3":120},{"series":"Measured","ch4":1781,"o3":170},{"series":"Measured","ch4":1788,"o3":40},{"series":"Measured","ch4":1794,"o3":90},
{"series":"SLIMCAT","ch4":1777,"o3":270},{"series":"SLIMCAT","ch4":1785,"o3":255},{"series":"SLIMCAT","ch4":1786,"o3":240},{"series":"SLIMCAT","ch4":1795,"o3":240},{"series":"SLIMCAT","ch4":1788,"o3":220},{"series":"SLIMCAT","ch4":1797,"o3":220},{"series":"SLIMCAT","ch4":1805,"o3":220},{"series":"SLIMCAT","ch4":1790,"o3":200},{"series":"SLIMCAT","ch4":1799,"o3":200},{"series":"SLIMCAT","ch4":1807,"o3":200},{"series":"SLIMCAT","ch4":1792,"o3":180},{"series":"SLIMCAT","ch4":1801,"o3":180},{"series":"SLIMCAT","ch4":1809,"o3":180},{"series":"SLIMCAT","ch4":1794,"o3":160},{"series":"SLIMCAT","ch4":1803,"o3":160},{"series":"SLIMCAT","ch4":1811,"o3":160},{"series":"SLIMCAT","ch4":1797,"o3":140},{"series":"SLIMCAT","ch4":1805,"o3":140},{"series":"SLIMCAT","ch4":1813,"o3":140},{"series":"SLIMCAT","ch4":1799,"o3":120},{"series":"SLIMCAT","ch4":1807,"o3":120},{"series":"SLIMCAT","ch4":1815,"o3":120},{"series":"SLIMCAT","ch4":1802,"o3":100},{"series":"SLIMCAT","ch4":1810,"o3":100},{"series":"SLIMCAT","ch4":1817,"o3":100},{"series":"SLIMCAT","ch4":1804,"o3":80},{"series":"SLIMCAT","ch4":1812,"o3":80},{"series":"SLIMCAT","ch4":1819,"o3":80},{"series":"SLIMCAT","ch4":1807,"o3":60},{"series":"SLIMCAT","ch4":1814,"o3":60},{"series":"SLIMCAT","ch4":1821,"o3":60},{"series":"SLIMCAT","ch4":1810,"o3":40},{"series":"SLIMCAT","ch4":1816,"o3":40},{"series":"SLIMCAT","ch4":1823,"o3":40},{"series":"SLIMCAT","ch4":1813,"o3":20},{"series":"SLIMCAT","ch4":1819,"o3":20},{"series":"SLIMCAT","ch4":1825,"o3":20},
{"series":"SLIMCAT","ch4":1781,"o3":262},{"series":"SLIMCAT","ch4":1788,"o3":248},{"series":"SLIMCAT","ch4":1787,"o3":230},{"series":"SLIMCAT","ch4":1796,"o3":230},{"series":"SLIMCAT","ch4":1803,"o3":230},{"series":"SLIMCAT","ch4":1789,"o3":210},{"series":"SLIMCAT","ch4":1798,"o3":210},{"series":"SLIMCAT","ch4":1806,"o3":210},{"series":"SLIMCAT","ch4":1791,"o3":190},{"series":"SLIMCAT","ch4":1800,"o3":190},{"series":"SLIMCAT","ch4":1808,"o3":190},{"series":"SLIMCAT","ch4":1793,"o3":170},{"series":"SLIMCAT","ch4":1802,"o3":170},{"series":"SLIMCAT","ch4":1810,"o3":170},{"series":"SLIMCAT","ch4":1795,"o3":150},{"series":"SLIMCAT","ch4":1804,"o3":150},{"series":"SLIMCAT","ch4":1812,"o3":150},{"series":"SLIMCAT","ch4":1798,"o3":130},{"series":"SLIMCAT","ch4":1806,"o3":130},{"series":"SLIMCAT","ch4":1814,"o3":130},{"series":"SLIMCAT","ch4":1800,"o3":110},{"series":"SLIMCAT","ch4":1808,"o3":110},{"series":"SLIMCAT","ch4":1816,"o3":110},{"series":"SLIMCAT","ch4":1803,"o3":90},{"series":"SLIMCAT","ch4":1811,"o3":90},{"series":"SLIMCAT","ch4":1818,"o3":90},{"series":"SLIMCAT","ch4":1805,"o3":70},{"series":"SLIMCAT","ch4":1813,"o3":70},{"series":"SLIMCAT","ch4":1820,"o3":70},{"series":"SLIMCAT","ch4":1808,"o3":50},{"series":"SLIMCAT","ch4":1815,"o3":50},{"series":"SLIMCAT","ch4":1822,"o3":50},{"series":"SLIMCAT","ch4":1811,"o3":30},{"series":"SLIMCAT","ch4":1818,"o3":30},{"series":"SLIMCAT","ch4":1824,"o3":30},{"series":"SLIMCAT","ch4":1815,"o3":10},{"series":"SLIMCAT","ch4":1821,"o3":10}
]
},
"concat": [
{"title": "SF1-2013", "data": {"name": "SF1"}, "width": 144, "height": 143,
 "mark": {"type": "point", "filled": false, "strokeWidth": 1, "opacity": 1, "size": 65},
 "encoding": {
  "x": {"field": "ch4", "type": "quantitative", "scale": {"domain": [1600, 1840], "nice": false, "zero": false}, "axis": {"values": [1600, 1700, 1800], "title": "CH₄ (ppb)"}},
  "y": {"field": "o3", "type": "quantitative", "scale": {"domain": [0, 800], "nice": false}, "axis": {"values": [0, 200, 400, 600, 800], "title": "O₃ (ppb)"}},
  "color": {"field": "series", "type": "nominal", "scale": {"domain": ["Measured", "SLIMCAT"], "range": ["#000000", "#D95319"]}, "legend": {"title": null}},
  "shape": {"field": "series", "type": "nominal", "scale": {"domain": ["Measured", "SLIMCAT"], "range": ["M-1.2,0H1.2M0,-1.2V1.2", "circle"]}, "legend": {"title": null}}
 }},
{"title": "SF2-2013", "data": {"name": "SF2"}, "width": 144, "height": 143,
 "mark": {"type": "point", "filled": false, "strokeWidth": 1, "opacity": 1, "size": 65},
 "encoding": {
  "x": {"field": "ch4", "type": "quantitative", "scale": {"domain": [1600, 1840], "nice": false, "zero": false}, "axis": {"values": [1600, 1700, 1800], "title": "CH₄ (ppb)"}},
  "y": {"field": "o3", "type": "quantitative", "scale": {"domain": [0, 800], "nice": false}, "axis": {"values": [0, 200, 400, 600, 800], "title": "O₃ (ppb)"}},
  "color": {"field": "series", "type": "nominal", "scale": {"domain": ["Measured", "SLIMCAT"], "range": ["#000000", "#D95319"]}, "legend": {"title": null}},
  "shape": {"field": "series", "type": "nominal", "scale": {"domain": ["Measured", "SLIMCAT"], "range": ["M-1.2,0H1.2M0,-1.2V1.2", "circle"]}, "legend": {"title": null}}
 }},
{"title": "SF3-2013", "data": {"name": "SF3"}, "width": 144, "height": 143,
 "mark": {"type": "point", "filled": false, "strokeWidth": 1, "opacity": 1, "size": 65},
 "encoding": {
  "x": {"field": "ch4", "type": "quantitative", "scale": {"domain": [1600, 1840], "nice": false, "zero": false}, "axis": {"values": [1600, 1700, 1800], "title": "CH₄ (ppb)"}},
  "y": {"field": "o3", "type": "quantitative", "scale": {"domain": [0, 800], "nice": false}, "axis": {"values": [0, 200, 400, 600, 800], "title": "O₃ (ppb)"}},
  "color": {"field": "series", "type": "nominal", "scale": {"domain": ["Measured", "SLIMCAT"], "range": ["#000000", "#D95319"]}, "legend": {"title": null}},
  "shape": {"field": "series", "type": "nominal", "scale": {"domain": ["Measured", "SLIMCAT"], "range": ["M-1.2,0H1.2M0,-1.2V1.2", "circle"]}, "legend": {"title": null}}
 }},
{"title": "SF4-2013", "data": {"name": "SF4"}, "width": 144, "height": 143,
 "mark": {"type": "point", "filled": false, "strokeWidth": 1, "opacity": 1, "size": 65},
 "encoding": {
  "x": {"field": "ch4", "type": "quantitative", "scale": {"domain": [1600, 1840], "nice": false, "zero": false}, "axis": {"values": [1600, 1700, 1800], "title": "CH₄ (ppb)"}},
  "y": {"field": "o3", "type": "quantitative", "scale": {"domain": [0, 800], "nice": false}, "axis": {"values": [0, 200, 400, 600, 800], "title": "O₃ (ppb)"}},
  "color": {"field": "series", "type": "nominal", "scale": {"domain": ["Measured", "SLIMCAT"], "range": ["#000000", "#D95319"]}, "legend": {"title": null}},
  "shape": {"field": "series", "type": "nominal", "scale": {"domain": ["Measured", "SLIMCAT"], "range": ["M-1.2,0H1.2M0,-1.2V1.2", "circle"]}, "legend": {"title": null}}
 }},
{"title": "SF5-2013", "data": {"name": "SF5"}, "width": 144, "height": 143,
 "mark": {"type": "point", "filled": false, "strokeWidth": 1, "opacity": 1, "size": 65},
 "encoding": {
  "x": {"field": "ch4", "type": "quantitative", "scale": {"domain": [1600, 1840], "nice": false, "zero": false}, "axis": {"values": [1600, 1700, 1800], "title": "CH₄ (ppb)"}},
  "y": {"field": "o3", "type": "quantitative", "scale": {"domain": [0, 800], "nice": false}, "axis": {"values": [0, 200, 400, 600, 800], "title": "O₃ (ppb)"}},
  "color": {"field": "series", "type": "nominal", "scale": {"domain": ["Measured", "SLIMCAT"], "range": ["#000000", "#D95319"]}, "legend": {"title": null}},
  "shape": {"field": "series", "type": "nominal", "scale": {"domain": ["Measured", "SLIMCAT"], "range": ["M-1.2,0H1.2M0,-1.2V1.2", "circle"]}, "legend": {"title": null}}
 }},
{"title": "SF6-2013", "data": {"name": "SF6"}, "width": 144, "height": 143,
 "mark": {"type": "point", "filled": false, "strokeWidth": 1, "opacity": 1, "size": 65},
 "encoding": {
  "x": {"field": "ch4", "type": "quantitative", "scale": {"domain": [1600, 1840], "nice": false, "zero": false}, "axis": {"values": [1600, 1700, 1800], "title": "CH₄ (ppb)"}},
  "y": {"field": "o3", "type": "quantitative", "scale": {"domain": [0, 800], "nice": false}, "axis": {"values": [0, 200, 400, 600, 800], "title": "O₃ (ppb)"}},
  "color": {"field": "series", "type": "nominal", "scale": {"domain": ["Measured", "SLIMCAT"], "range": ["#000000", "#D95319"]}, "legend": {"title": null}},
  "shape": {"field": "series", "type": "nominal", "scale": {"domain": ["Measured", "SLIMCAT"], "range": ["M-1.2,0H1.2M0,-1.2V1.2", "circle"]}, "legend": {"title": null}}
 }}
]
}
